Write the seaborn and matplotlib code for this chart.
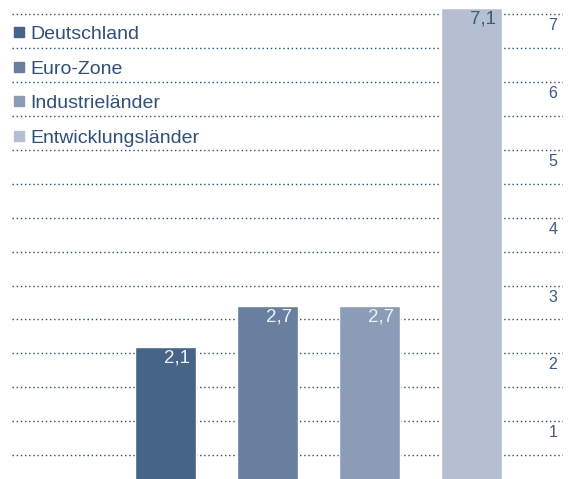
import matplotlib
matplotlib.use("Agg")
import matplotlib.pyplot as plt
import seaborn as sns
import pandas as pd
from matplotlib.lines import Line2D

categories = ["Deutschland", "Euro-Zone", "Industrieländer", "Entwicklungsländer"]
values = [2.1, 2.7, 2.7, 7.1]
value_labels = ["2,1", "2,7", "2,7", "7,1"]
colors = ["#466488", "#687f9f", "#8b9cb7", "#b6bfd2"]
label_colors = ["#eef1f6", "#eef1f6", "#eef1f6", "#3a5a80"]
tick_values = [1, 2, 3, 4, 5, 6, 7]
tick_labels = ["1", "2", "3", "4", "5", "6", "7"]
grid_values = [0.5 * i for i in range(1, 15)]

sns.set_theme(style="white")
plt.rcParams["font.family"] = ["Liberation Sans", "DejaVu Sans"]

W, H = 571, 479
fig = plt.figure(figsize=(W / 100, H / 100), dpi=100)
ax = fig.add_axes([12 / W, 0, 551 / W, 1])

df = pd.DataFrame({"cat": categories, "val": values})
sns.barplot(data=df, x="cat", y="val", hue="cat", palette=colors, width=0.6,
            legend=False, ax=ax, zorder=3, saturation=1)

ax.set_xlim(-1.505, 3.897)
ax.set_ylim(0.147, 7.212)

for g in grid_values:
    ax.axhline(g, color="#2a4a78", lw=1.0, ls=(0, (1, 2)), zorder=1)

for s in ax.spines.values():
    s.set_visible(False)
ax.set_xticks([])
ax.set_yticks([])
ax.set_xlabel("")
ax.set_ylabel("")
ax.patch.set_alpha(0)

text_color = "#2f5078"
for v, t in zip(tick_values, tick_labels):
    ax.annotate(t, xy=(0.990, v), xycoords=("axes fraction", "data"),
                xytext=(0, -4), textcoords="offset pixels",
                ha="right", va="top", fontsize=11.5, color="#3d5a80")

for p, lab, c in zip(ax.patches, value_labels, label_colors):
    ax.annotate(lab, xy=(p.get_x() + p.get_width(), p.get_height()),
                xytext=(-6, -3), textcoords="offset pixels",
                ha="right", va="top", fontsize=13.5, color=c, zorder=5)

handles = [Line2D([], [], marker="s", ls="none", markersize=7.3,
                  markerfacecolor=c, markeredgecolor=c) for c in colors]
leg = ax.legend(handles, categories, loc="upper left",
                bbox_to_anchor=(-0.0265, 0.979), frameon=False,
                fontsize=14, handlelength=0.6, handletextpad=0.3,
                labelspacing=0.87, borderpad=0.3)
for t in leg.get_texts():
    t.set_color(text_color)

fig.savefig("out.png", dpi=100)
